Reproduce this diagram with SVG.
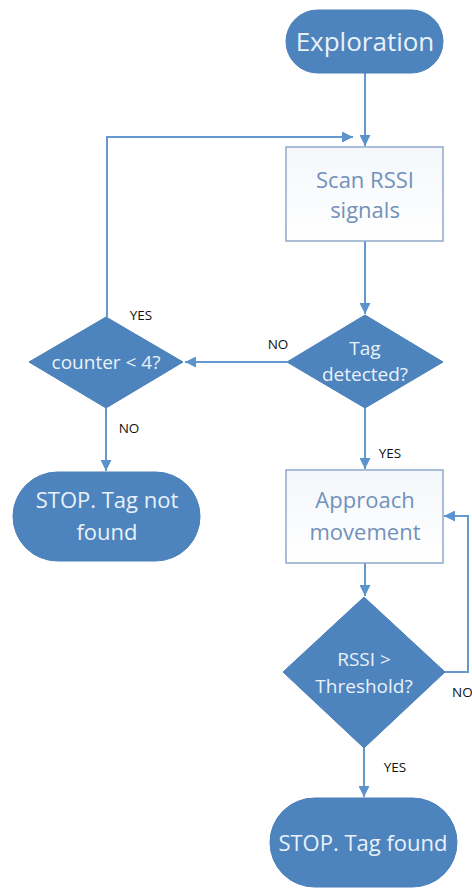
<svg xmlns="http://www.w3.org/2000/svg" width="472" height="890" viewBox="0 0 472 890">
<defs>
<marker id="ah" viewBox="0 0 10 10" refX="10" refY="5" markerWidth="11" markerHeight="11" markerUnits="userSpaceOnUse" orient="auto">
<path d="M0,0 L10,5 L0,10 Z" fill="#5B93CC"/>
</marker>
<linearGradient id="boxg" x1="0" y1="0" x2="0" y2="1">
<stop offset="0" stop-color="#F4F7FB"/>
<stop offset="1" stop-color="#FFFFFF"/>
</linearGradient>
<style>
.term{fill:#4D84BE;stroke:#4A7FB8;stroke-width:1}
.dec{fill:#4D84BE;stroke:#4A7FB8;stroke-width:1}
.box{fill:url(#boxg);stroke:#8EA9CB;stroke-width:1.5}
.wt{font-family:"Open Sans","Noto Sans",sans-serif;fill:#EAF1F9;text-anchor:middle}
.bt{font-family:"Open Sans","Noto Sans",sans-serif;fill:#7291BA;text-anchor:middle}
.lbl{font-family:"Open Sans","Noto Sans",sans-serif;fill:#111111;font-size:13.5px;text-anchor:middle}
.c{fill:none;stroke:#6498CE;stroke-width:2}
</style>
</defs>
<rect width="472" height="890" fill="#FFFFFF"/>

<g id="connectors">
<path class="c" d="M365,73 V146" marker-end="url(#ah)"/>
<path class="c" d="M107,317 V137 H353" marker-end="url(#ah)"/>
<path class="c" d="M365,241 V314" marker-end="url(#ah)"/>
<path class="c" d="M287,362 H185" marker-end="url(#ah)"/>
<path class="c" d="M106,408 V471" marker-end="url(#ah)"/>
<path class="c" d="M365,408 V469" marker-end="url(#ah)"/>
<path class="c" d="M365,563 V596" marker-end="url(#ah)"/>
<path class="c" d="M445,672 H468 V516 H444" marker-end="url(#ah)"/>
<path class="c" d="M364,748 V797" marker-end="url(#ah)"/>
<text class="lbl" x="141" y="320">YES</text>
<text class="lbl" x="278" y="349">NO</text>
<text class="lbl" x="129" y="433">NO</text>
<text class="lbl" x="390" y="458">YES</text>
<text class="lbl" x="452" y="697" style="text-anchor:start">NO</text>
<text class="lbl" x="395" y="772">YES</text>
</g>

<g id="exploration">
<rect class="term" x="286" y="10" width="157" height="63" rx="31.5"/>
<text class="wt" x="365" y="51" font-size="26">Exploration</text>
</g>

<g id="scan">
<rect class="box" x="286" y="147" width="157" height="94"/>
<text class="bt" x="365" y="188" font-size="22">Scan RSSI</text>
<text class="bt" x="365" y="218" font-size="22">signals</text>
</g>

<g id="tagDetected">
<polygon class="dec" points="365,315 443,362 365,408 287,362"/>
<text class="wt" x="365" y="355" font-size="19">Tag</text>
<text class="wt" x="365" y="381" font-size="19">detected?</text>
</g>

<g id="counter">
<polygon class="dec" points="106,317 183,362 106,408 29,362"/>
<text class="wt" x="106" y="369" font-size="19">counter &lt; 4?</text>
</g>

<g id="stopNotFound">
<rect class="term" x="13" y="472" width="187" height="89" rx="44.5"/>
<text class="wt" x="107" y="508" font-size="22">STOP. Tag not</text>
<text class="wt" x="107" y="540" font-size="22">found</text>
</g>

<g id="approach">
<rect class="box" x="286" y="470" width="157" height="93"/>
<text class="bt" x="365" y="508" font-size="22">Approach</text>
<text class="bt" x="365" y="540" font-size="22">movement</text>
</g>

<g id="threshold">
<polygon class="dec" points="364,597 445,672 364,748 283,672"/>
<text class="wt" x="364" y="666" font-size="19">RSSI &gt;</text>
<text class="wt" x="364" y="693" font-size="19">Threshold?</text>
</g>

<g id="stopFound">
<rect class="term" x="270" y="798" width="187" height="89" rx="44.5"/>
<text class="wt" x="363" y="851" font-size="22">STOP. Tag found</text>
</g>
</svg>
